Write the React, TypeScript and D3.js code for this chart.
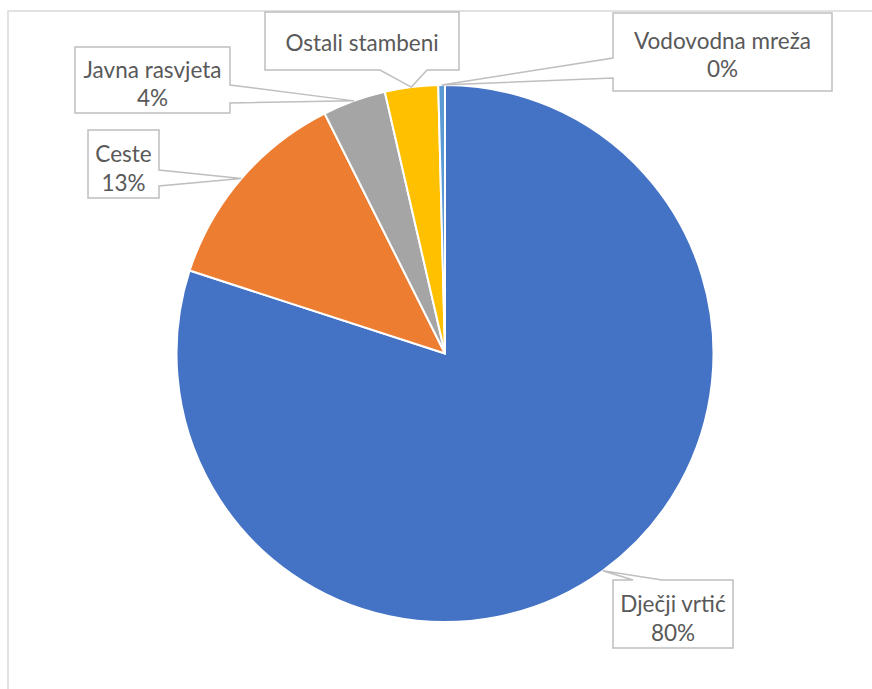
import React from "react";
import * as d3 from "d3";

const categories = ["Dječji vrtić", "Ceste", "Javna rasvjeta", "Ostali stambeni", "Vodovodna mreža"];
const values = [80.0, 12.6, 3.8, 3.2, 0.4];
const percentLabels = ["80%", "13%", "4%", "", "0%"];
const colors = ["#4472C4", "#ED7D31", "#A5A5A5", "#FFC000", "#5B9BD5"];

const W = 872;
const H = 689;
const cx = 445;
const cy = 353.5;
const R = 268.5;

type Box = { x0: number; y0: number; x1: number; y1: number; side: "top" | "bottom" | "left" | "right"; a: number; b: number; ty: number[] };

const boxes: Box[] = [
  { x0: 613, y0: 580, x1: 733, y1: 648, side: "top", a: 633, b: 662, ty: [603, 632] },
  { x0: 88, y0: 130, x1: 159, y1: 198, side: "right", a: 170, b: 186, ty: [153, 182] },
  { x0: 75, y0: 47, x1: 230, y1: 113, side: "right", a: 85, b: 103, ty: [69, 97] },
  { x0: 265, y0: 12, x1: 459, y1: 70, side: "bottom", a: 380, b: 427, ty: [42] },
  { x0: 613, y0: 13, x1: 832, y1: 91, side: "left", a: 58, b: 78, ty: [40, 68] },
];

function calloutPath(bx: Box, tx: number, ty: number): string {
  const { x0, y0, x1, y1, side, a, b } = bx;
  const p: [number, number][] = [];
  p.push([x0, y0]);
  if (side === "top") { p.push([a, y0], [tx, ty], [b, y0]); }
  p.push([x1, y0]);
  if (side === "right") { p.push([x1, a], [tx, ty], [x1, b]); }
  p.push([x1, y1]);
  if (side === "bottom") { p.push([b, y1], [tx, ty], [a, y1]); }
  p.push([x0, y1]);
  if (side === "left") { p.push([x0, b], [tx, ty], [x0, a]); }
  return "M" + p.map((q) => q.join(",")).join("L") + "Z";
}

export default function App() {
  const pie = d3.pie<number>().sort(null).value((d) => d)(values);
  const arc = d3.arc<d3.PieArcDatum<number>>().innerRadius(0).outerRadius(R);
  return (
    <svg width={W} height={H} style={{ position: "absolute", left: 0, top: 0 }}>
      <rect x={0} y={0} width={W} height={H} fill="#fff" />
      <rect x={8} y={11} width={W + 20} height={H + 20} fill="none" stroke="#d9d9d9" strokeWidth={1.5} />
      <g transform={`translate(${cx},${cy})`}>
        {pie.map((s, i) => (
          <path key={i} d={arc(s) || ""} fill={colors[i]} stroke="#fff" strokeWidth={2} strokeLinejoin="round" />
        ))}
      </g>
      {pie.map((s, i) => {
        const mid = (s.startAngle + s.endAngle) / 2;
        const tx = cx + R * Math.sin(mid);
        const ty = cy - R * Math.cos(mid);
        const bx = boxes[i];
        const lines = percentLabels[i] ? [categories[i], percentLabels[i]] : [categories[i]];
        const mx = (bx.x0 + bx.x1) / 2;
        return (
          <g key={"l" + i}>
            <path d={calloutPath(bx, tx, ty)} fill="#fff" stroke="#bfbfbf" strokeWidth={1.5} />
            {lines.map((t, j) => (
              <text key={j} x={mx} y={bx.ty[j]} textAnchor="middle" dominantBaseline="central"
                fontFamily="Lato, 'Noto Sans', sans-serif" fontSize={22.5} fill="#595959">
                {t}
              </text>
            ))}
          </g>
        );
      })}
    </svg>
  );
}
